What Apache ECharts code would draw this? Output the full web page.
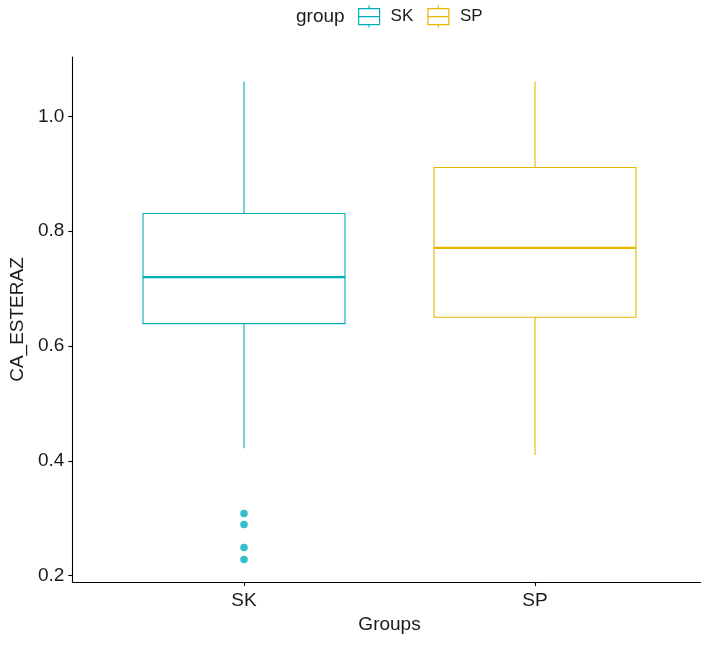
<!DOCTYPE html>
<html>
<head>
<meta charset="utf-8">
<script src="https://cdn.jsdelivr.net/npm/echarts@6/dist/echarts.min.js"></script>
<style>
  html, body { margin: 0; padding: 0; background: #fff; }
  #chart { width: 701px; height: 646px; }
</style>
</head>
<body>
<div id="chart"></div>
<script>
// Groups and their five-number summaries of CA_ESTERAZ
const groups = ['SK', 'SP'];
const groupColors = ['#00AFBB', '#E7B800'];
const lowerWhisker = [0.422, 0.410];
const quartile1 = [0.639, 0.650];
const medians = [0.720, 0.771];
const quartile3 = [0.831, 0.911];
const upperWhisker = [1.061, 1.061];
// Points beyond the whiskers (SK only)
const outliersSK = [0.308, 0.289, 0.249, 0.228];
// Y tick labels
const yTicks = [0.2, 0.4, 0.6, 0.8, 1.0];

const yMin = 0.1887, yMax = 1.1037;
const FONT = "'Liberation Sans', Arial, sans-serif";
const TEXT = '#1a1a1a';

// Legend glyph: a small box with median line and whisker stubs
const boxIcon = 'path://M0,3L21,3L21,19L0,19Z M0,11L21,11 M10.5,0L10.5,3 M10.5,19L10.5,22';

function renderBox(params, api) {
  const x = api.value(0);
  const lo = api.coord([x, api.value(1)]);
  const q1 = api.coord([x, api.value(2)]);
  const md = api.coord([x, api.value(3)]);
  const q3 = api.coord([x, api.value(4)]);
  const hi = api.coord([x, api.value(5)]);
  const half = api.size([1, 0])[0] * 0.347;
  const color = api.visual('color');
  const cx = md[0];
  const thin = { stroke: color, lineWidth: 1.1, fill: null };
  return {
    type: 'group',
    children: [
      { type: 'line', shape: { x1: cx, y1: hi[1], x2: cx, y2: q3[1] }, style: thin },
      { type: 'line', shape: { x1: cx, y1: q1[1], x2: cx, y2: lo[1] }, style: thin },
      { type: 'rect', shape: { x: cx - half, y: q3[1], width: 2 * half, height: q1[1] - q3[1] },
        style: { stroke: color, lineWidth: 1.1, fill: '#fff' } },
      { type: 'line', shape: { x1: cx - half, y1: md[1], x2: cx + half, y2: md[1] },
        style: { stroke: color, lineWidth: 2.3 } }
    ]
  };
}

const boxSeries = groups.map((g, i) => ({
  name: g,
  type: 'custom',
  xAxisIndex: 1,
  yAxisIndex: 1,
  itemStyle: { color: groupColors[i] },
  encode: { x: 0, y: [1, 2, 3, 4, 5] },
  renderItem: renderBox,
  data: [[i, lowerWhisker[i], quartile1[i], medians[i], quartile3[i], upperWhisker[i]]],
  z: 2
}));

const outlierSeries = {
  name: 'SK',
  type: 'scatter',
  xAxisIndex: 1,
  yAxisIndex: 1,
  symbol: 'circle',
  symbolSize: 7.5,
  itemStyle: { color: groupColors[0] },
  data: outliersSK.map(v => [groups[0], v]),
  z: 3
};

const chart = echarts.init(document.getElementById('chart'), null, { renderer: 'canvas' });
chart.setOption({
  animation: false,
  backgroundColor: '#fff',
  title: {
    text: 'group',
    left: 291,
    top: 2,
    textStyle: { fontFamily: FONT, fontSize: 19, fontWeight: 'normal', color: TEXT }
  },
  legend: {
    left: 358,
    top: 5,
    padding: 0,
    itemWidth: 21,
    itemHeight: 22,
    itemGap: 14,
    data: groups.map((g, i) => ({
      name: g,
      icon: boxIcon,
      itemStyle: { color: 'rgba(255,255,255,0)', borderColor: groupColors[i], borderWidth: 1.2 }
    })),
    textStyle: { fontFamily: FONT, fontSize: 17, color: TEXT, padding: [0, 0, 0, 6] }
  },
  grid: [
    // full panel: carries the visible axis lines
    { left: 71, right: 0, top: 57, bottom: 64 },
    // category band layout for the boxes
    { left: 98.5, right: 20.5, top: 57, bottom: 64 }
  ],
  xAxis: [
    {
      type: 'value', gridIndex: 0, min: 0, max: 1,
      axisLine: { show: true, lineStyle: { color: '#000', width: 1.1 } },
      axisTick: { show: false }, axisLabel: { show: false }, splitLine: { show: false }
    },
    {
      type: 'category', gridIndex: 1, data: groups, boundaryGap: true,
      axisLine: { show: false },
      axisTick: { show: true, alignWithLabel: true, length: 4, lineStyle: { color: '#000', width: 1.1 } },
      axisLabel: { fontFamily: FONT, fontSize: 19, color: TEXT, margin: 9 },
      name: 'Groups', nameLocation: 'middle', nameGap: 33,
      nameTextStyle: { fontFamily: FONT, fontSize: 19, color: TEXT },
      splitLine: { show: false }
    }
  ],
  yAxis: [
    {
      type: 'value', gridIndex: 0, min: yMin, max: yMax,
      axisLine: { show: true, lineStyle: { color: '#000', width: 1.1 } },
      axisTick: { show: true, length: 4, customValues: yTicks, lineStyle: { color: '#000', width: 1.1 } },
      axisLabel: {
        customValues: yTicks, fontFamily: FONT, fontSize: 19, color: TEXT, margin: 8,
        formatter: v => Number(v).toFixed(1)
      },
      splitLine: { show: false },
      name: 'CA_ESTERAZ', nameLocation: 'middle', nameGap: 40,
      nameTextStyle: { fontFamily: FONT, fontSize: 19, color: TEXT }
    },
    {
      type: 'value', gridIndex: 1, min: yMin, max: yMax, show: false,
      splitLine: { show: false }
    }
  ],
  series: [...boxSeries, outlierSeries]
});
</script>
</body>
</html>
